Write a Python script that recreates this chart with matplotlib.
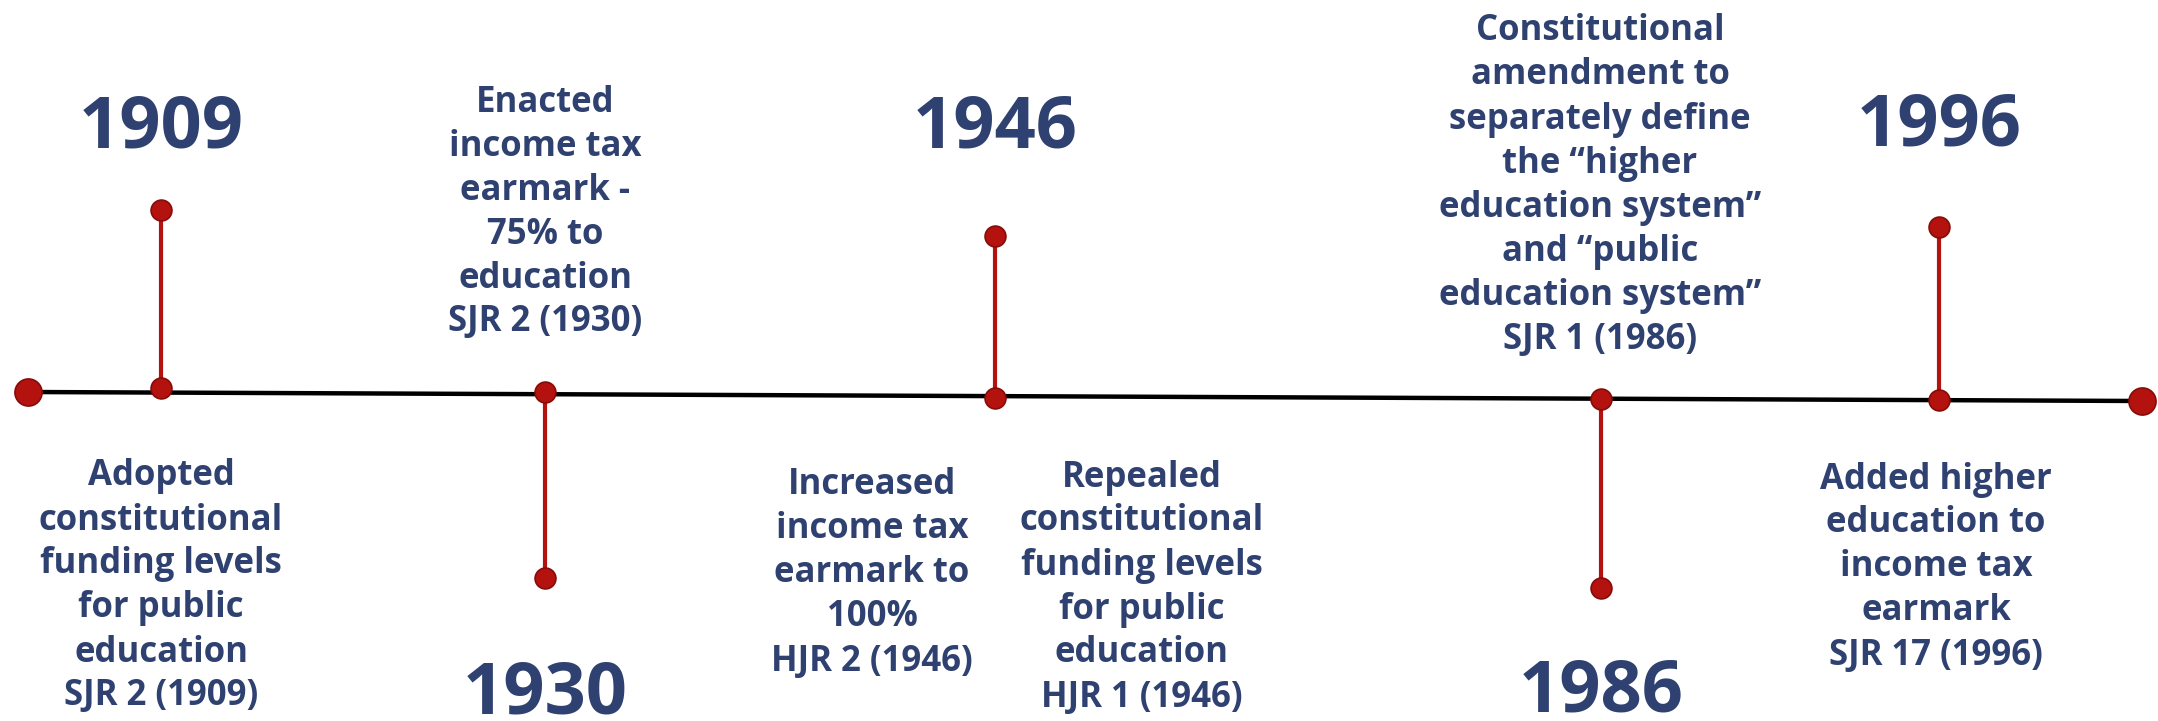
import matplotlib
matplotlib.use("Agg")

import matplotlib.pyplot as plt

# ── Data ───────────────────────────────────────────────────────────────

years = ["1909", "1930", "1946", "1986", "1996"]
# +1 = stem goes up from the line, -1 = stem goes down
directions = [1, -1, 1, -1, 1]

notes = [
    ("Adopted\nconstitutional\nfunding levels\nfor public\neducation\nSJR 2 (1909)", 0),
    ("Enacted\nincome tax\nearmark -\n75% to\neducation\nSJR 2 (1930)", 1),
    ("Increased\nincome tax\nearmark to\n100%\nHJR 2 (1946)", 2),
    ("Repealed\nconstitutional\nfunding levels\nfor public\neducation\nHJR 1 (1946)", 2),
    ("Constitutional\namendment to\nseparately define\nthe \u201chigher\neducation system\u201d\nand \u201cpublic\neducation system\u201d\nSJR 1 (1986)", 3),
    ("Added higher\neducation to\nincome tax\nearmark\nSJR 17 (1996)", 4),
]

# ── Layout (pixel space of the 2158x721 canvas) ────────────────────────

W, H = 2158, 721
line_x = [28, 2142]
line_y = [392, 401]
event_x = [161, 545, 995, 1601, 1939]
event_base_y = [388, 392, 398, 399, 400]
stem_len = [178, 186, 162, 189, 173]
year_baseline = [148, 714, 148, 712, 145]
note_xy = [(161, 582), (545, 208), (872, 569), (1142, 583), (1600, 181), (1936, 563)]
line_pitch = 44

NAVY = "#2F4170"
RED = "#B3120E"
RED_EDGE = "#850C09"
FONT = "Open Sans"

fig = plt.figure(figsize=(W / 100, H / 100), dpi=100)
ax = fig.add_axes([0, 0, 1, 1])
ax.set_xlim(0, W)
ax.set_ylim(H, 0)
ax.axis("off")

# main timeline
ax.plot(line_x, line_y, color="black", lw=3.2, solid_capstyle="butt", zorder=1)
ax.plot(line_x, line_y, "o", ms=19.5, color=RED, mec=RED_EDGE, mew=1.2, zorder=3)

for i, year in enumerate(years):
    x = event_x[i]
    y0 = event_base_y[i]
    y1 = y0 - directions[i] * stem_len[i]
    ax.plot([x, x], [y0, y1], color=RED, lw=3, zorder=2)
    ax.plot([x, x], [y0, y1], "o", ms=15, color=RED, mec=RED_EDGE, mew=1.2, zorder=3)
    ax.text(x, year_baseline[i], year, ha="center", va="baseline", fontsize=52,
            fontweight="bold", color=NAVY, family=FONT)

for (text, _), (cx, cy) in zip(notes, note_xy):
    lines = text.split("\n")
    n = len(lines)
    for j, ln in enumerate(lines):
        ax.text(cx, cy + (j - (n - 1) / 2) * line_pitch, ln, ha="center",
                va="center_baseline", fontsize=25, fontweight="bold",
                color=NAVY, family=FONT)

fig.savefig("out.png", dpi=100)
